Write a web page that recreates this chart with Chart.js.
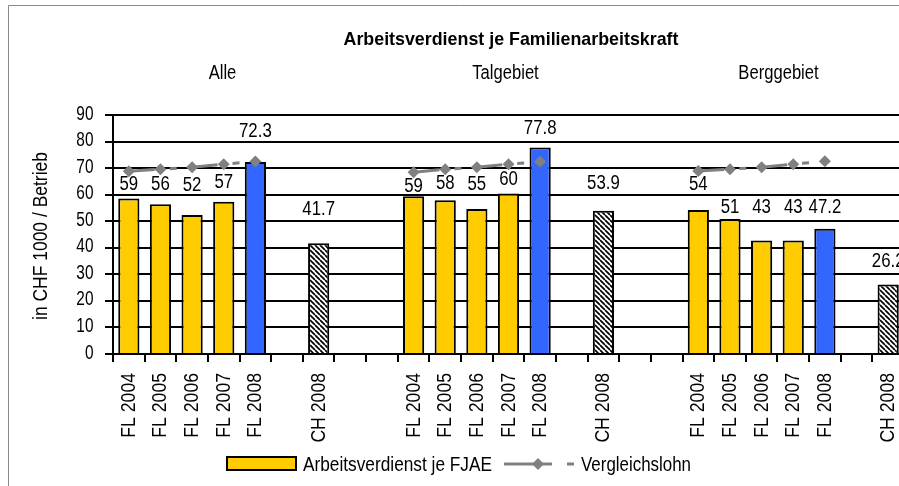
<!DOCTYPE html>
<html><head><meta charset="utf-8">
<script src="https://cdn.jsdelivr.net/npm/chart.js@4/dist/chart.umd.min.js"></script>
<style>
html,body{margin:0;padding:0;background:#fff;overflow:hidden;width:899px;height:486px;}
#wrap{position:absolute;left:0;top:0;width:910px;height:486px;}
</style></head>
<body><div id="wrap"><canvas id="c" width="910" height="486"></canvas></div>
<script>
// ---- data ----
const categories = [
  'FL 2004','FL 2005','FL 2006','FL 2007','FL 2008','','CH 2008','','',
  'FL 2004','FL 2005','FL 2006','FL 2007','FL 2008','','CH 2008','','',
  'FL 2004','FL 2005','FL 2006','FL 2007','FL 2008','','CH 2008'
];
const groupNames = ['Alle','Talgebiet','Berggebiet'];
const verdienstAlle = [58.6, 56.4, 52.3, 57.3, 72.3];
const chAlle = 41.7;
const verdienstTal = [59.4, 57.9, 54.6, 60.4, 77.8];
const chTal = 53.9;
const verdienstBerg = [54.2, 50.8, 42.7, 42.7, 47.2];
const chBerg = 26.2;
const vergleichAlle = [68.8, 69.6, 70.3, 71.5, 72.5];
const vergleichTal = [68.4, 69.6, 70.3, 71.5, 72.4];
const vergleichBerg = [68.9, 69.6, 70.3, 71.5, 72.6];
// value-axis level at which each bar's value label sits (as placed in the original)
const labelLevelAlle = [61.8, 61.8, 61.5, 62.4, 81.7, 52.3];
const labelLevelTal = [61.1, 62.0, 61.8, 63.6, 82.9, 62.0];
const labelLevelBerg = [61.8, 53.0, 53.0, 53.0, 53.1, 32.9];
const yTicks = [0,10,20,30,40,50,60,70,80,90];

// ---- build arrays ----
function grp(fl, ch, trail){ return [...fl, null, ch, ...Array(trail).fill(null)]; }
const barData = [...grp(verdienstAlle, chAlle, 2), ...grp(verdienstTal, chTal, 2), ...grp(verdienstBerg, chBerg, 0)];
const lineData = [...grp(vergleichAlle, null, 2), ...grp(vergleichTal, null, 2), ...grp(vergleichBerg, null, 0)];
const labelLevels = [...grp(labelLevelAlle.slice(0,5), labelLevelAlle[5], 2), ...grp(labelLevelTal.slice(0,5), labelLevelTal[5], 2), ...grp(labelLevelBerg.slice(0,5), labelLevelBerg[5], 0)];

const FONT = '"Liberation Sans",Arial,sans-serif';
const YELLOW = '#FFCC00', BLUE = '#3366FF', GREY = '#808080';

// hatch pattern
const pc = document.createElement('canvas'); pc.width = 5; pc.height = 5;
const px = pc.getContext('2d');
px.fillStyle = '#fff'; px.fillRect(0,0,5,5);
px.strokeStyle = '#000'; px.lineWidth = 1.7;
px.beginPath();
for (let k=-5;k<=10;k+=5){ px.moveTo(k,0); px.lineTo(k+5,5); }
px.stroke();
const hatch = px.createPattern(pc,'repeat');

const barColors = barData.map((v,i)=>{
  const lbl = categories[i];
  if (lbl.startsWith('CH')) return hatch;
  if (lbl === 'FL 2008') return BLUE;
  return YELLOW;
});

function fmt(v, i){
  const lbl = categories[i];
  return (lbl === 'FL 2008' || lbl.startsWith('CH')) ? v.toFixed(1) : String(Math.round(v));
}

// narrow text: draw with horizontal compression (Arial Narrow look)
function txt(ctx, s, x, y, font, align, sx, rot){
  ctx.save();
  ctx.translate(x, y);
  if (rot) ctx.rotate(rot);
  ctx.scale(sx, 1);
  ctx.font = font;
  ctx.textAlign = align; ctx.textBaseline = 'alphabetic';
  ctx.fillText(s, 0, 0);
  ctx.restore();
}
function fitSx(ctx, s, font, w){ ctx.save(); ctx.font = font; const m = ctx.measureText(s).width; ctx.restore(); return w / m; }

const decor = {
  id:'decor',
  beforeDraw(chart){
    const ctx = chart.ctx;
    ctx.save();
    ctx.strokeStyle = '#8a8a8a'; ctx.lineWidth = 1;
    ctx.beginPath(); ctx.moveTo(8.5, 486); ctx.lineTo(8.5, 5.5); ctx.lineTo(910, 5.5); ctx.stroke();
    ctx.restore();
  },
  afterDraw(chart){
    const ctx = chart.ctx;
    const xs = chart.scales.x, ys = chart.scales.y;
    const F20 = '20px ' + FONT;
    ctx.save();
    ctx.fillStyle = '#000';
    // title
    const TF = 'bold 19px ' + FONT;
    const tTitle = 'Arbeitsverdienst je Familienarbeitskraft';
    txt(ctx, tTitle, 511, 45, TF, 'center', fitSx(ctx, tTitle, TF, 335));
    // group names
    txt(ctx, groupNames[0], 222.5, 79, F20, 'center', 0.83);
    txt(ctx, groupNames[1], 505.5, 79, F20, 'center', 0.83);
    txt(ctx, groupNames[2], 778.5, 79, F20, 'center', 0.83);
    // y title
    const yT = 'in CHF 1000 / Betrieb';
    txt(ctx, yT, 46.5, 236, F20, 'center', fitSx(ctx, yT, F20, 168), -Math.PI/2);
    // y tick labels
    yTicks.forEach(v=>{
      txt(ctx, String(v), 93.5, ys.getPixelForValue(v) + 4.5, F20, 'right', 0.77);
    });
    // x tick labels
    categories.forEach((c,i)=>{
      if (!c) return;
      txt(ctx, c, xs.getPixelForValue(i) + 6, 373, '21px ' + FONT, 'right', 0.84, -Math.PI/2);
    });
    // value labels
    const meta = chart.getDatasetMeta(1);
    meta.data.forEach((el, i)=>{
      const v = barData[i];
      if (v == null) return;
      txt(ctx, fmt(v,i), el.x, ys.getPixelForValue(labelLevels[i]), F20, 'center', 0.84);
    });
    // legend
    ctx.fillStyle = YELLOW; ctx.fillRect(227, 457, 69, 13);
    ctx.strokeStyle = '#000'; ctx.lineWidth = 2; ctx.strokeRect(227, 457, 69, 13);
    ctx.fillStyle = '#000';
    const l1 = 'Arbeitsverdienst je FJAE';
    txt(ctx, l1, 303, 471, F20, 'left', fitSx(ctx, l1, F20, 189));
    ctx.strokeStyle = GREY; ctx.lineWidth = 3;
    ctx.beginPath(); ctx.moveTo(504, 464); ctx.lineTo(552, 464); ctx.moveTo(567, 464); ctx.lineTo(574, 464); ctx.stroke();
    ctx.fillStyle = GREY;
    ctx.beginPath(); ctx.moveTo(532, 464); ctx.lineTo(538, 458); ctx.lineTo(544, 464); ctx.lineTo(538, 470); ctx.closePath(); ctx.fill();
    ctx.fillStyle = '#000';
    const l2 = 'Vergleichslohn';
    txt(ctx, l2, 581, 471, F20, 'left', fitSx(ctx, l2, F20, 110));
    ctx.restore();
  }
};

new Chart(document.getElementById('c'), {
  data: {
    labels: categories,
    datasets: [
      { type:'line', label:'Vergleichslohn', data: lineData, order: 0,
        borderColor: GREY, borderWidth: 3, borderDash:[26,15,7,15], spanGaps:false,
        pointStyle:'rectRot', pointRadius:6, pointBackgroundColor: GREY, pointBorderColor: GREY, pointBorderWidth:0,
        tension:0, fill:false },
      { type:'bar', label:'Arbeitsverdienst je FJAE', data: barData, order: 1,
        backgroundColor: barColors, borderColor:'#000', borderWidth:2,
        barPercentage:0.67, categoryPercentage:1 }
    ]
  },
  options: {
    responsive:false, animation:false,
    layout:{ padding:{ left:0, top:115, right:5, bottom:0 } },
    plugins:{ legend:{display:false}, title:{display:false}, tooltip:{enabled:false} },
    scales:{
      x:{
        offset:true,
        grid:{ display:true, drawOnChartArea:false, drawTicks:true, tickLength:8, offset:true, color:'#000', lineWidth:2 },
        border:{ display:true, color:'#000', width:2 },
        ticks:{ display:false, autoSkip:false },
        afterFit(s){ s.height = 132; }
      },
      y:{
        min:0, max:90,
        afterBuildTicks(s){ s.ticks = yTicks.map(v=>({value:v})); },
        grid:{ color:'#000', lineWidth:2, tickLength:8, drawTicks:true },
        border:{ display:true, color:'#000', width:2 },
        ticks:{ display:false, autoSkip:false, stepSize:10 },
        afterFit(s){ s.width = 113; }
      }
    }
  },
  plugins:[decor]
});
</script>
</body></html>
